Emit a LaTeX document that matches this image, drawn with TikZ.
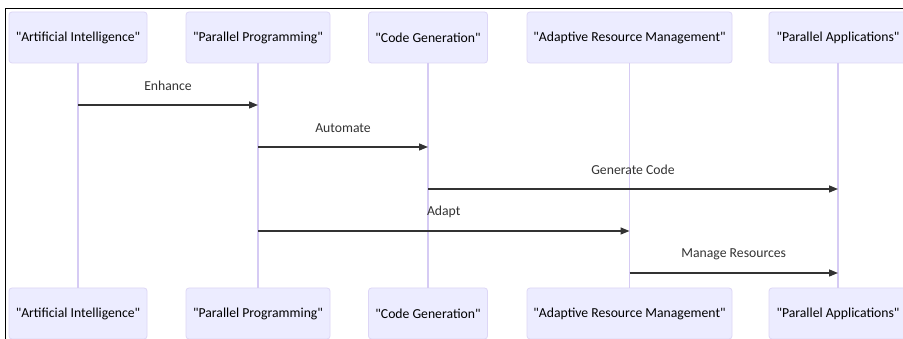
\documentclass[tikz,border=0pt]{standalone}
\usepackage{fontspec}
\setmainfont{Carlito}[Ligatures=TeXOff]
\usetikzlibrary{arrows.meta}
\definecolor{actfill}{HTML}{ECECFF}
\definecolor{actline}{HTML}{DDD6F6}
\definecolor{lifecol}{HTML}{D6CBF4}
\definecolor{msgcol}{HTML}{333333}
\begin{document}
\begin{tikzpicture}[x=1pt,y=-1pt,
  actor/.style={draw=actline,fill=actfill,line width=0.8pt,rounded corners=3pt,
    minimum height=51pt,inner sep=0pt,font=\fontsize{13.7}{16}\selectfont,text=black},
  life/.style={draw=lifecol,line width=1.3pt},
  msgarrow/.style={draw=msgcol,line width=1.4pt,-{Triangle[length=9pt,width=7pt]}},
  msglabel/.style={font=\fontsize{13.7}{16}\selectfont,text=msgcol}]
\clip (0,0) rectangle (903,339);
\fill[white] (0,0) rectangle (903,339);
% frame
\draw[black,line width=1.4pt] (5.5,339) -- (5.5,8.5) -- (903,8.5);
% top actors
\node[actor,minimum width=138pt] (a1t) at (78,37.5) {"Artificial Intelligence"};
\node[actor,minimum width=144pt] (a2t) at (258,37.5) {"Parallel Programming"};
\node[actor,minimum width=119pt] (a3t) at (428,37.5) {"Code Generation"};
\node[actor,minimum width=205pt] (a4t) at (629.5,37.5) {"Adaptive Resource Management"};
\node[actor,minimum width=138pt] (a5t) at (838,37.5) {"Parallel Applications"};
% bottom actors
\node[actor,minimum width=138pt] (a1b) at (78,313.5) {"Artificial Intelligence"};
\node[actor,minimum width=144pt] (a2b) at (258,313.5) {"Parallel Programming"};
\node[actor,minimum width=119pt] (a3b) at (428,313.5) {"Code Generation"};
\node[actor,minimum width=205pt] (a4b) at (629.5,313.5) {"Adaptive Resource Management"};
\node[actor,minimum width=138pt] (a5b) at (838,313.5) {"Parallel Applications"};
% lifelines
\foreach \i in {1,...,5}{\draw[life] (a\i t.south) -- (a\i b.north);}
% messages
\draw[msgarrow] (a1t |- 0,105) -- node[msglabel,midway,yshift=19pt]{Enhance} (a2t |- 0,105);
\draw[msgarrow] (a2t |- 0,147) -- node[msglabel,midway,yshift=19pt]{Automate} (a3t |- 0,147);
\draw[msgarrow] (a3t |- 0,189) -- node[msglabel,midway,yshift=19pt]{Generate Code} (a5t |- 0,189);
\draw[msgarrow] (a2t |- 0,231) -- node[msglabel,midway,yshift=19pt]{Adapt} (a4t |- 0,231);
\draw[msgarrow] (a4t |- 0,273) -- node[msglabel,midway,yshift=19pt]{Manage Resources} (a5t |- 0,273);
\end{tikzpicture}
\end{document}
